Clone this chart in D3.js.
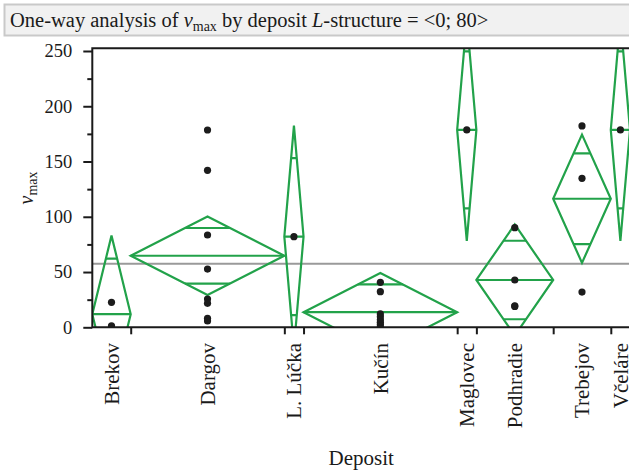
<!DOCTYPE html>
<html><head><meta charset="utf-8">
<script src="https://cdn.jsdelivr.net/npm/d3@7"></script>
<style>body{margin:0;background:#fff} svg{display:block}</style>
</head><body>
<svg id="chart" width="629" height="470"></svg>
<script>
// v_max observations per deposit
const deposits = ["Brekov", "Dargov", "L. Lúčka", "Kučín", "Maglovec", "Podhradie", "Trebejov", "Včeláre"];
const brekov = [22.6, 1.2];
const dargov = [178.5, 142.0, 83.5, 52.7, 25.6, 21.7, 8.1, 5.7];
const lLucka = [82.0];
const kucin = [40.7, 32.2, 12.1, 9.5, 6.8, 4.6, 2.5, 0.8];
const maglovec = [178.6];
const podhradie = [90.1, 42.8, 19.4, 18.9];
const trebejov = [182.2, 134.8, 31.9];
const vcelare = [178.6];
const yTicks = [0, 50, 100, 150, 200, 250];
const yMinorTicks = [25, 75, 125, 175, 225];
const tCrit = 2.086; // Student t 0.975 quantile, 20 df

const values = [brekov, dargov, lLucka, kucin, maglovec, podhradie, trebejov, vcelare];

// group statistics
let cum = 0;
const groups = deposits.map((name, i) => {
  const v = values[i];
  const g = { name, v, n: v.length, start: cum, mean: d3.mean(v) };
  cum += v.length;
  g.end = cum;
  return g;
});
const N = cum, k = groups.length;
const ssWithin = d3.sum(groups, g => d3.sum(g.v, x => (x - g.mean) ** 2));
const sPooled = Math.sqrt(ssWithin / (N - k));
groups.forEach(g => { g.ci = tCrit * sPooled / Math.sqrt(g.n); });
const grandMean = d3.mean(values.flat());

const svg = d3.select("#chart");
const pLeft = 92.3, pRight = 630, pTop = 48.3, pBottom = 327.3;
const serif = "'Liberation Serif', 'Times New Roman', serif";

const x = d3.scaleLinear().domain([0, N]).range([pLeft, pRight]);
const y = d3.scaleLinear().domain([0, 250]).range([pBottom, 51]);

// title bar
svg.append("rect").attr("x", 4.5).attr("y", 4.5).attr("width", 640).attr("height", 31)
  .attr("fill", "#f1f1f1").attr("stroke", "#c9c9c9").attr("stroke-width", 2);
const title = svg.append("text").attr("x", 10).attr("y", 26.5)
  .attr("font-family", serif).attr("font-size", 20.5).attr("fill", "#1a1a1a");
title.append("tspan").text("One-way analysis of ");
title.append("tspan").attr("font-style", "italic").text("v");
title.append("tspan").attr("font-size", 14).attr("dy", 4).text("max");
title.append("tspan").attr("dy", -4).text(" by deposit ");
title.append("tspan").attr("font-style", "italic").text("L");
title.append("tspan").text("-structure = <0; 80>");

// clip for marks
svg.append("clipPath").attr("id", "plot-clip")
  .append("rect").attr("x", pLeft).attr("y", pTop).attr("width", pRight - pLeft).attr("height", pBottom - pTop);
const plot = svg.append("g").attr("clip-path", "url(#plot-clip)");

// grand mean
plot.append("line").attr("x1", pLeft).attr("x2", pRight)
  .attr("y1", y(grandMean)).attr("y2", y(grandMean))
  .attr("stroke", "#9a9a9a").attr("stroke-width", 2);

// means diamonds
const green = "#22a24a";
const dg = plot.selectAll("g.diamond").data(groups).join("g").attr("class", "diamond")
  .attr("fill", "none").attr("stroke", green).attr("stroke-width", 2.2);
dg.append("path").attr("d", g => {
  const x0 = x(g.start), x1 = x(g.end), xc = (x0 + x1) / 2;
  return `M${x0},${y(g.mean)}L${xc},${y(g.mean + g.ci)}L${x1},${y(g.mean)}L${xc},${y(g.mean - g.ci)}Z`;
}).attr("stroke-linejoin", "miter");
dg.append("line").attr("x1", g => x(g.start)).attr("x2", g => x(g.end))
  .attr("y1", g => y(g.mean)).attr("y2", g => y(g.mean));
// overlap marks
const ov = Math.SQRT1_2;
[1, -1].forEach(sgn => {
  dg.append("line")
    .attr("x1", g => { const x0 = x(g.start), x1 = x(g.end); return (x0 + x1) / 2 - (x1 - x0) / 2 * (1 - ov); })
    .attr("x2", g => { const x0 = x(g.start), x1 = x(g.end); return (x0 + x1) / 2 + (x1 - x0) / 2 * (1 - ov); })
    .attr("y1", g => y(g.mean + sgn * g.ci * ov)).attr("y2", g => y(g.mean + sgn * g.ci * ov));
});

// observations
const pts = groups.flatMap(g => g.v.map(v => ({ g, v })));
plot.selectAll("circle.obs").data(pts).join("circle").attr("class", "obs")
  .attr("cx", d => x((d.g.start + d.g.end) / 2)).attr("cy", d => y(d.v))
  .attr("r", 3.6).attr("fill", "#1c1c1c");

// frame
svg.append("path").attr("d", `M${pRight},${pTop}H${pLeft}V${pBottom}H${pRight}`)
  .attr("fill", "none").attr("stroke", "#1a1a1a").attr("stroke-width", 2);

// y axis
const yAxis = svg.append("g").attr("transform", `translate(${pLeft},0)`)
  .call(d3.axisLeft(y).tickValues(yTicks).tickSize(9).tickSizeOuter(0).tickPadding(11));
yAxis.select(".domain").remove();
yAxis.selectAll(".tick line").attr("stroke", "#1a1a1a").attr("stroke-width", 2);
yAxis.selectAll("text").attr("font-family", serif).attr("font-size", 18.5).attr("fill", "#1a1a1a");
const yMinor = svg.append("g").attr("transform", `translate(${pLeft},0)`)
  .call(d3.axisLeft(y).tickValues(yMinorTicks).tickSize(5).tickSizeOuter(0).tickFormat(""));
yMinor.select(".domain").remove();
yMinor.selectAll(".tick line").attr("stroke", "#1a1a1a").attr("stroke-width", 2);

// x axis: ticks at group boundaries
const xAxis = svg.append("g").attr("transform", `translate(0,${pBottom})`)
  .call(d3.axisBottom(x).tickValues(groups.slice(0, -1).map(g => g.end)).tickSize(7).tickSizeOuter(0).tickFormat(""));
xAxis.select(".domain").remove();
xAxis.selectAll(".tick line").attr("stroke", "#1a1a1a").attr("stroke-width", 2);

// group labels
svg.selectAll("text.cat").data(groups).join("text").attr("class", "cat")
  .attr("transform", g => `translate(${x((g.start + g.end) / 2)},343) rotate(-90)`)
  .attr("text-anchor", "end").attr("dy", "0.35em")
  .attr("font-family", serif).attr("font-size", 21).attr("fill", "#1a1a1a")
  .text(g => g.name);

// axis titles
svg.append("text").attr("x", (pLeft + pRight) / 2).attr("y", 465)
  .attr("text-anchor", "middle").attr("font-family", serif).attr("font-size", 21)
  .attr("fill", "#1a1a1a").text("Deposit");
const yt = svg.append("text").attr("transform", "translate(33,188) rotate(-90)")
  .attr("text-anchor", "middle").attr("font-family", serif).attr("font-size", 20).attr("fill", "#1a1a1a");
yt.append("tspan").attr("font-style", "italic").text("v");
yt.append("tspan").attr("font-size", 14).attr("dy", 4).text("max");
</script>
</body></html>
